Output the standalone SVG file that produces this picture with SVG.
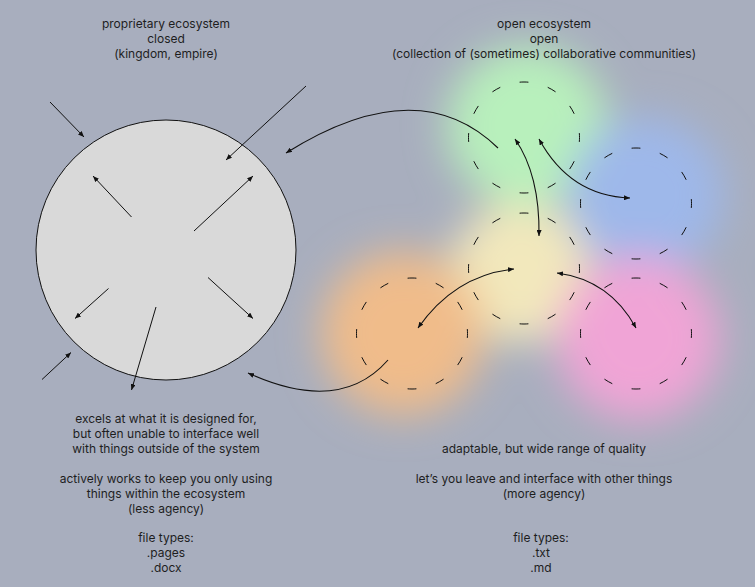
<svg xmlns="http://www.w3.org/2000/svg" width="755" height="587" viewBox="0 0 755 587">
<style>
text{font-family:Inter,"Noto Sans",sans-serif;font-size:12px;fill:#1e1e1e;text-anchor:middle}
.arr{fill:none;stroke:#111;stroke-width:1;marker-end:url(#ah)}
.dbl{fill:none;stroke:#111;stroke-width:1.1;marker-start:url(#ah);marker-end:url(#ah)}
.one{fill:none;stroke:#111;stroke-width:1.1;marker-end:url(#ah)}
.dash{fill:none;stroke:#111;stroke-width:1;stroke-dasharray:3.1 6.9;stroke-dashoffset:1.55}
</style>
<defs>
<filter id="blur" x="-100%" y="-100%" width="300%" height="300%"><feGaussianBlur stdDeviation="20"/></filter>
<marker id="ah" viewBox="0 0 6 5" refX="6" refY="2.5" markerWidth="6" markerHeight="5" markerUnits="userSpaceOnUse" orient="auto-start-reverse"><path d="M0,0 L6,2.5 L0,5 z" fill="#111"/></marker>
</defs>
<rect width="755" height="587" fill="#a8aebe"/>
<g id="blobs" filter="url(#blur)">
<circle cx="520" cy="272" r="70" fill="#f2e8bc"/>
<circle cx="527" cy="126" r="80" fill="#b8f0bc"/>
<circle cx="646" cy="195" r="78" fill="#9eb8ea"/>
<circle cx="403" cy="333" r="82" fill="#f0bc8a"/>
<circle cx="638" cy="338" r="82" fill="#f0a4d6"/>
</g>
<g id="titles">
<text x="166" y="28">proprietary ecosystem</text>
<text x="166" y="43">closed</text>
<text x="166" y="58">(kingdom, empire)</text>
<text x="544" y="28">open ecosystem</text>
<text x="544" y="43">open</text>
<text x="544" y="58">(collection of (sometimes) collaborative communities)</text>
</g>
<g id="closed-system">
<circle cx="166" cy="250" r="130" fill="#d9d9d9" stroke="#111" stroke-width="1"/>
</g>
<g id="community-green"><circle class="dash" cx="524" cy="137.5" r="55.5" pathLength="120"/></g>
<g id="community-blue"><circle class="dash" cx="636" cy="203.5" r="55.5" pathLength="120"/></g>
<g id="community-yellow"><circle class="dash" cx="524" cy="268.5" r="55.5" pathLength="120"/></g>
<g id="community-orange"><circle class="dash" cx="412" cy="333.5" r="55.5" pathLength="120"/></g>
<g id="community-pink"><circle class="dash" cx="636" cy="333.5" r="55.5" pathLength="120"/></g>
<g id="connectors">
<line class="arr" x1="50" y1="102" x2="84" y2="137"/>
<line class="arr" x1="306" y1="86" x2="226" y2="160"/>
<line class="arr" x1="131.5" y1="217" x2="93" y2="176"/>
<line class="arr" x1="194" y1="231" x2="253" y2="176"/>
<line class="arr" x1="108.5" y1="288.5" x2="75" y2="318.5"/>
<line class="arr" x1="208" y1="277.5" x2="253" y2="318.5"/>
<line class="arr" x1="156" y1="307" x2="131.5" y2="390"/>
<line class="arr" x1="42" y1="379.5" x2="71" y2="352.5"/>
<path class="one" d="M498,148 Q418,70 286,153"/>
<path class="one" d="M388,360 Q340,415 248,373"/>
<path class="dbl" d="M515,139 Q540,175 539,236"/>
<path class="dbl" d="M539,139 Q570,196 630,198"/>
<path class="dbl" d="M514,269 Q455,275 418,328"/>
<path class="dbl" d="M557,273 Q610,280 636,328"/>
</g>
<g id="left-notes">
<text x="166" y="423">excels at what it is designed for,</text>
<text x="166" y="438">but often unable to interface well</text>
<text x="166" y="453">with things outside of the system</text>
<text x="166" y="483">actively works to keep you only using</text>
<text x="166" y="498">things within the ecosystem</text>
<text x="166" y="513">(less agency)</text>
<text x="166" y="542">file types:</text>
<text x="166" y="557">.pages</text>
<text x="166" y="572">.docx</text>
</g>
<g id="right-notes">
<text x="544" y="453">adaptable, but wide range of quality</text>
<text x="544" y="483">let’s you leave and interface with other things</text>
<text x="544" y="498">(more agency)</text>
<text x="541" y="542">file types:</text>
<text x="541" y="557">.txt</text>
<text x="541" y="572">.md</text>
</g>
</svg>
